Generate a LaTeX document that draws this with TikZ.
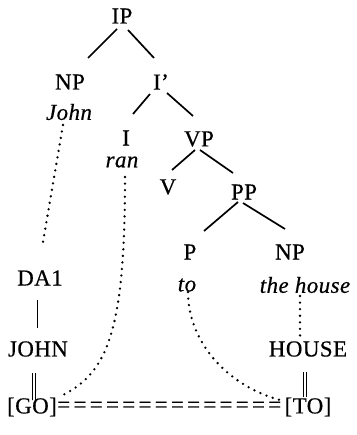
\documentclass[tikz,border=0pt]{standalone}
\usepackage{fontspec}
\setmainfont{Liberation Serif}[LetterSpace=2,FakeBold=0.5]
\usetikzlibrary{calc}
\begin{document}
\begin{tikzpicture}[x=1bp,y=-1bp,
  lbl/.style={inner sep=0pt, font=\fontsize{23}{26}\selectfont},
  word/.style={inner sep=0pt, font=\fontsize{23}{26}\selectfont\itshape},
  branch/.style={line width=1.7pt},
  trace/.style={line width=2.6pt, line cap=round, dash pattern=on 0pt off 6.6pt},
  link/.style={line width=0.9pt},
  eqlink/.style={line width=0.7pt}]
\useasboundingbox (0,0) rectangle (356,435);

% syntactic tree
\node[lbl] (IP) at (122,16) {IP};
\node[lbl] (NP) at (70,82) {NP};
\node[word] (John) at (69,112) {John};
\node[lbl] (Ib) at (161,82) {I’};
\node[lbl] (I) at (126,138) {I};
\node[word] (ran) at (122,162) {ran};
\node[lbl] (VP) at (199,139) {VP};
\node[lbl] (V) at (168,187) {V};
\node[lbl] (PP) at (244,192) {PP};
\node[lbl] (P) at (190,252) {P};
\node[word] (to) at (187,285) {to};
\node[lbl] (NPb) at (290,252) {NP};
\node[word] (house) at (305,285) {the house};

% conceptual structure
\node[lbl] (DA) at (40,278) {DA1};
\node[lbl] (JOHN) at (38,349) {JOHN};
\node[lbl] (HOUSE) at (308,349) {HOUSE};
\node[lbl] (GO) at (32,407) {[GO]};
\node[lbl] (TO) at (308,407) {[TO]};
\node[lbl, anchor=west] (eq) at (GO.east) {\makebox[224bp][s]{=\hfil=\hfil=\hfil=\hfil=\hfil=\hfil=\hfil=\hfil=\hfil=\hfil=\hfil=\hfil=\hfil=}};

% branches
\draw[branch] ($(IP)+(-5,13)$) -- ($(NP)+(18,-24)$);
\draw[branch] ($(IP)+(6,14)$) -- ($(Ib)+(-7,-24)$);
\draw[branch] ($(Ib)+(-11,12)$) -- ($(I)+(7,-24)$);
\draw[branch] ($(Ib)+(6,11)$) -- ($(VP)+(-6,-23)$);
\draw[branch] ($(VP)+(-4,11)$) -- ($(V)+(4,-17)$);
\draw[branch] ($(VP)+(1,11)$) -- ($(PP)+(-11,-19)$);
\draw[branch] ($(PP)+(-6,10)$) -- ($(P)+(14,-21)$);
\draw[branch] ($(PP)+(-1,11)$) -- ($(NPb)+(-5,-23)$);

% correspondences
\draw[trace] ($(John)+(-6,13)$) -- ($(DA)+(3,-36)$);
\draw[trace] ($(ran)+(3,15)$) .. controls ($(ran)+(3,168)$) and ($(GO)+(76,-35)$) .. ($(GO)+(31,-12)$);
\draw[trace] ($(to)+(1,7)$) .. controls ($(to)+(1,55)$) and ($(TO)+(-83,-22)$) .. ($(TO)+(-28,-7)$);
\draw[trace] ($(house)+(-5,11)$) -- ($(HOUSE)+(-8,-11)$);

% conceptual links
\draw[link] ($(DA)+(-3,22)$) -- ($(JOHN)+(-1,-21)$);
\foreach \dx in {-1.5,1.5} {
  \draw[eqlink] ($(JOHN)+(-4+\dx,24)$) -- ($(GO)+(2+\dx,-7)$);
  \draw[eqlink] ($(HOUSE)+(-3+\dx,23)$) -- ($(TO)+(-3+\dx,-10)$);
}
\end{tikzpicture}
\end{document}
